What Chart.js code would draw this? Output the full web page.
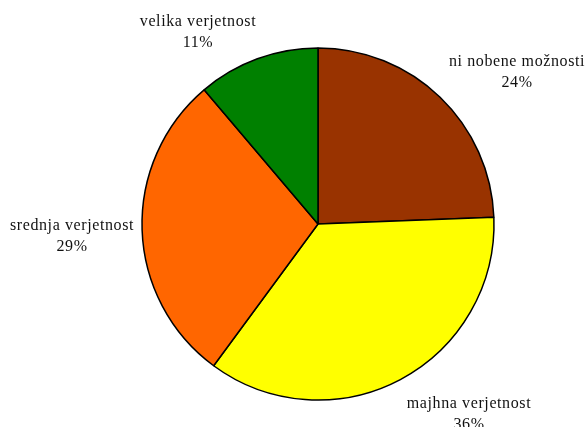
<!DOCTYPE html>
<html>
<head>
<meta charset="utf-8">
<script src="https://cdn.jsdelivr.net/npm/chart.js@4.4.1/dist/chart.umd.min.js"></script>
<style>
  html, body { margin: 0; padding: 0; background: #fff; }
  #c { display: block; }
</style>
</head>
<body>
<canvas id="c" width="586" height="427"></canvas>
<script>
const categories = ['ni nobene možnosti', 'majhna verjetnost', 'srednja verjetnost', 'velika verjetnost'];
const values = [24.4, 35.7, 28.7, 11.2];
const colors = ['#993300', '#FFFF00', '#FF6600', '#008000'];

// label anchor offsets from pie centre (line 1 centre), in px
const labelOffsets = [[199, -162], [151, 180], [-246, 2], [-120, -202]];
const lineGap = 21;

const labelPlugin = {
  id: 'outerLabels',
  afterDraw(chart) {
    const ctx = chart.ctx;
    const meta = chart.getDatasetMeta(0);
    const arc = meta.data[0];
    const cx = arc.x, cy = arc.y;
    const total = values.reduce((a, b) => a + b, 0);
    ctx.save();
    ctx.fillStyle = '#111';
    ctx.font = '16px "Liberation Serif", "Times New Roman", serif';
    ctx.textAlign = 'center';
    ctx.textBaseline = 'middle';
    if ('letterSpacing' in ctx) ctx.letterSpacing = '0.6px';
    categories.forEach((cat, i) => {
      const [dx, dy] = labelOffsets[i];
      const pct = Math.round(values[i] / total * 100) + '%';
      ctx.fillText(cat, cx + dx, cy + dy);
      ctx.fillText(pct, cx + dx, cy + dy + lineGap);
    });
    ctx.restore();
  }
};

new Chart(document.getElementById('c'), {
  type: 'pie',
  data: {
    labels: categories,
    datasets: [{
      data: values,
      backgroundColor: colors,
      borderColor: '#000',
      borderWidth: 1.5
    }]
  },
  options: {
    responsive: false,
    animation: false,
    devicePixelRatio: 1,
    radius: 176,
    layout: { padding: { left: 142, right: 92, top: 48, bottom: 27 } },
    plugins: {
      legend: { display: false },
      tooltip: { enabled: false }
    }
  },
  plugins: [labelPlugin]
});
</script>
</body>
</html>
